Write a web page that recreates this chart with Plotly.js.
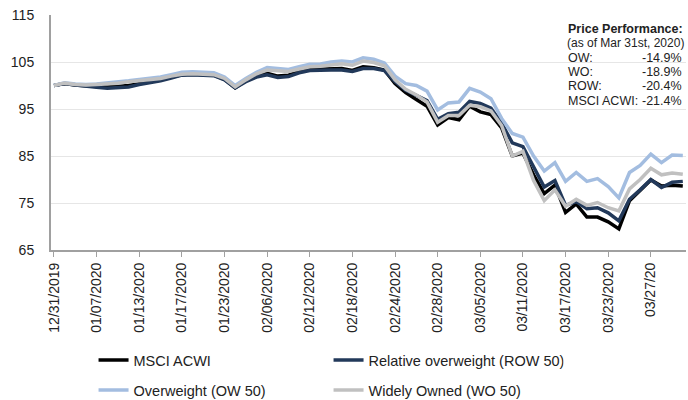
<!DOCTYPE html>
<html>
<head>
<meta charset="utf-8">
<script src="https://cdn.plot.ly/plotly-3.0.1.min.js"></script>
<style>
html,body{margin:0;padding:0;background:#fff;}
#chart{width:688px;height:400px;}
</style>
</head>
<body>
<div id="chart"></div>
<script>
// Tick labels shown on the category axis (every 4th trading day)
const tickLabels = ["12/31/2019","01/07/2020","01/13/2020","01/17/2020","01/23/2020","02/06/2020","02/12/2020","02/18/2020","02/24/2020","02/28/2020","03/05/2020","03/11/2020","03/17/2020","03/23/2020","03/27/20"];

const seriesNames = ["MSCI ACWI", "Relative overweight (ROW 50)", "Overweight (OW 50)", "Widely Owned (WO 50)"];

const msciAcwi = [100.0,100.4,100.1,99.9,99.8,99.7,99.8,100.0,100.4,100.8,101.2,101.8,102.3,102.4,102.3,102.2,101.3,99.5,101.0,102.0,102.6,102.0,102.2,103.0,103.4,103.5,103.5,103.6,103.2,104.0,103.8,103.3,100.4,98.5,97.0,95.6,91.6,93.2,92.7,95.6,94.4,93.8,91.0,85.0,85.6,81.0,77.0,78.8,73.0,74.8,72.0,72.0,71.0,69.5,75.5,77.6,79.9,78.6,78.8,78.6];

const relOverweight = [100.0,100.4,100.1,99.8,99.6,99.4,99.5,99.7,100.2,100.6,101.0,101.6,102.2,102.3,102.2,102.1,101.2,99.5,100.8,101.8,102.3,101.7,101.9,102.7,103.2,103.3,103.3,103.3,103.0,103.6,103.6,103.2,100.8,99.0,98.0,96.8,92.8,94.0,94.3,96.6,96.2,95.2,92.0,87.8,87.0,82.5,78.4,79.8,74.5,75.3,73.8,74.0,72.9,71.2,75.8,77.8,80.0,78.3,79.4,79.6];

const overweight = [100.0,100.6,100.3,100.2,100.3,100.5,100.8,101.0,101.3,101.5,101.8,102.3,102.8,102.9,102.8,102.7,101.8,100.0,101.5,102.8,103.8,103.6,103.4,104.0,104.5,104.6,105.0,105.2,105.0,105.9,105.6,104.8,102.0,100.4,100.0,98.8,94.8,96.3,96.5,99.4,98.6,97.2,93.0,89.8,89.0,85.0,81.8,83.6,79.6,81.5,79.6,80.2,78.5,76.1,81.5,83.0,85.4,83.6,85.2,85.1];

const widelyOwned = [100.0,100.5,100.2,100.1,100.2,100.3,100.5,100.8,101.0,101.2,101.5,102.0,102.4,102.5,102.4,102.3,101.5,99.7,101.2,102.5,103.3,103.1,103.0,103.5,104.0,104.1,104.4,104.6,104.3,105.2,104.9,104.2,101.2,99.2,98.0,96.5,92.2,93.6,93.6,95.8,95.5,94.6,91.5,85.0,86.0,79.8,75.5,77.8,74.3,75.8,74.5,75.1,74.0,73.3,78.0,80.0,82.4,81.0,81.4,81.1];

const perfTitle = "Price Performance:";
const perfSubtitle = "(as of Mar 31st, 2020)";
const perfLabels = ["OW:", "WO:", "ROW:", "MSCI ACWI:"];
const perfValues = ["-14.9%", "-18.9%", "-20.4%", "-21.4%"];

const yTicks = [65, 75, 85, 95, 105, 115];

const colors = ["#000000", "#22395a", "#a3bde0", "#c0c0c0"];
const allSeries = [msciAcwi, relOverweight, overweight, widelyOwned];
const legendIds = ["legend", "legend", "legend2", "legend2"];

const idx = msciAcwi.map((_, i) => i);
const tickVals = tickLabels.map((_, k) => k * 4);

const traces = allSeries.map((vals, s) => ({
  type: "scatter",
  mode: "lines",
  x: idx,
  y: vals,
  name: seriesNames[s],
  legend: legendIds[s],
  line: {color: colors[s], width: 3.5, shape: "linear"},
  hoverinfo: "skip"
}));

const FONT = "Liberation Sans, Arial, sans-serif";
const txtCol = "#222";

const annRowsY = [0.941, 0.879, 0.818, 0.757, 0.696, 0.636];
const annotations = [
  {text: "<b>" + perfTitle + "</b>", x: 0.811, y: annRowsY[0], xanchor: "left", font: {size: 12.5}},
  {text: perfSubtitle, x: 0.809, y: annRowsY[1], xanchor: "left", font: {size: 12}}
];
perfLabels.forEach((lab, k) => {
  annotations.push({text: lab, x: 0.811, y: annRowsY[k + 2], xanchor: "left", font: {size: 12.5}});
  annotations.push({text: perfValues[k], x: 0.997, y: annRowsY[k + 2], xanchor: "right", font: {size: 12.5}});
});
annotations.forEach(a => {
  a.xref = "paper"; a.yref = "paper"; a.yanchor = "middle"; a.showarrow = false;
  a.font = Object.assign({family: FONT, color: txtCol}, a.font);
});

const legendCommon = {
  orientation: "h",
  xanchor: "left",
  yanchor: "middle",
  x: 0.067,
  yref: "container",
  entrywidth: 190,
  entrywidthmode: "pixels",
  font: {family: FONT, size: 14.5, color: txtCol},
  bgcolor: "rgba(0,0,0,0)",
  itemclick: false,
  itemdoubleclick: false
};

const layout = {
  width: 688,
  height: 400,
  margin: {l: 51, r: 2, t: 15, b: 150},
  paper_bgcolor: "#ffffff",
  plot_bgcolor: "#ffffff",
  showlegend: true,
  font: {family: FONT, size: 14, color: txtCol},
  xaxis: {
    range: [-0.28, 59.3],
    tickmode: "array",
    tickvals: tickVals,
    ticktext: tickLabels,
    tickangle: -90,
    ticks: "outside",
    ticklen: 5,
    tickwidth: 1,
    tickcolor: "#a0a0a0",
    showline: true,
    linecolor: "#a0a0a0",
    linewidth: 2,
    showgrid: false,
    zeroline: false,
    automargin: false,
    tickfont: {family: FONT, size: 14, color: txtCol}
  },
  yaxis: {
    range: [65, 115],
    tickmode: "array",
    tickvals: yTicks,
    ticks: "",
    showline: true,
    linecolor: "#a0a0a0",
    linewidth: 2,
    showgrid: true,
    gridcolor: "#e6e6e6",
    gridwidth: 1,
    zeroline: false,
    automargin: false,
    ticklabelstandoff: 12,
    tickfont: {family: FONT, size: 14, color: txtCol}
  },
  legend: Object.assign({}, legendCommon, {y: 0.1}),
  legend2: Object.assign({}, legendCommon, {y: 0.025}),
  annotations: annotations
};

Plotly.newPlot("chart", traces, layout, {displayModeBar: false, staticPlot: true});
</script>
</body>
</html>
